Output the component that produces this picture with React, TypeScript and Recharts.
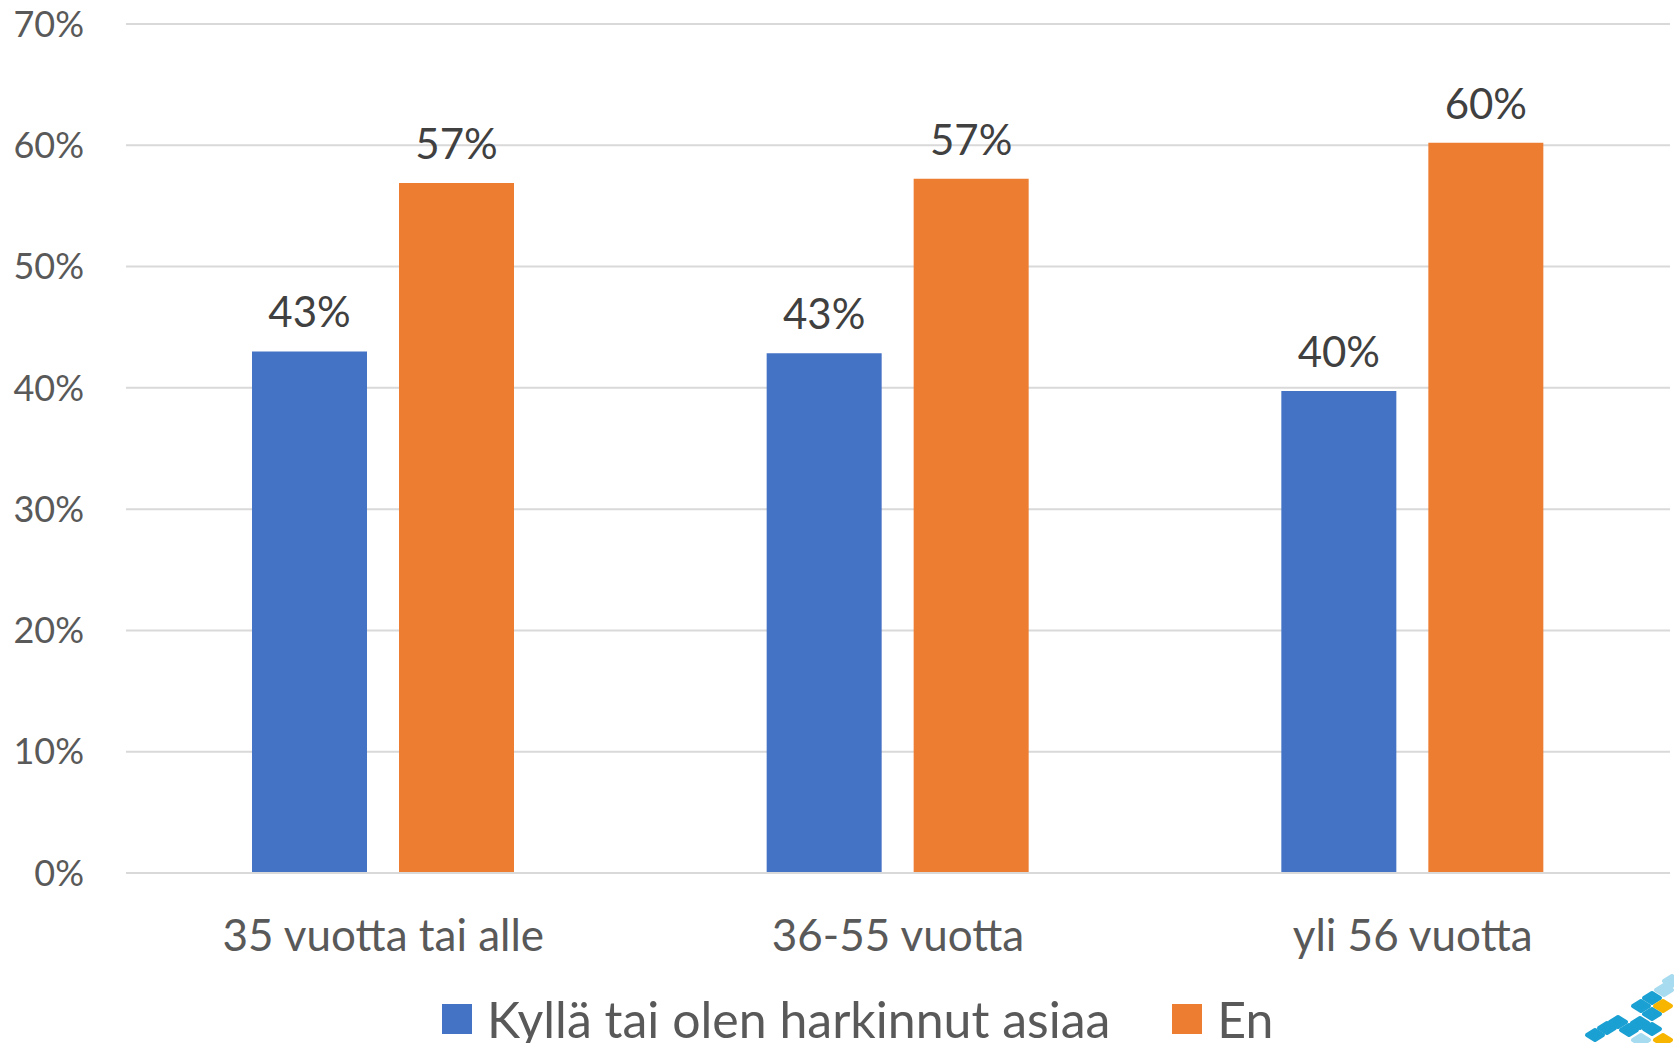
import { BarChart, Bar, XAxis, YAxis, CartesianGrid, Legend, LabelList } from "recharts";

const categories = ["35 vuotta tai alle", "36-55 vuotta", "yli 56 vuotta"];
const kylla = [43.0, 42.85, 39.75];
const en = [56.9, 57.25, 60.2];
const yTicks = [0, 10, 20, 30, 40, 50, 60, 70];

const seriesOrder = ["kylla", "en"];
const seriesNames = { kylla: "Kyllä tai olen harkinnut asiaa", en: "En" };

const chartData = categories.map((c, i) => ({ ryhma: c, kylla: kylla[i], en: en[i] }));

// logo in the bottom right corner (decoration, not data)
const logoDots = [
  [1595, 1035, "#1aa0d2"],
  [1607, 1028, "#1aa0d2"],
  [1618, 1022, "#1aa0d2"],
  [1629, 1030, "#1aa0d2"],
  [1640, 1023, "#1aa0d2"],
  [1641, 1006, "#1aa0d2"],
  [1652, 998, "#1aa0d2"],
  [1652, 1014, "#1aa0d2"],
  [1652, 1029, "#1aa0d2"],
  [1663, 1006, "#f7b500"],
  [1664, 990, "#a7dbef"],
  [1672, 981, "#a7dbef"],
  [1641, 1040, "#a7dbef"],
  [1663, 1040, "#f7b500"],
] as const;

const FONT = "Lato, 'Open Sans', sans-serif";

const renderLegend = (props: any) => {
  const payload = [...(props.payload || [])].sort(
    (a: any, b: any) => seriesOrder.indexOf(a.dataKey) - seriesOrder.indexOf(b.dataKey)
  );
  return (
    <div style={{ display: "flex", alignItems: "center", paddingLeft: 442, height: 46, fontFamily: FONT }}>
      {payload.map((p: any) => (
        <div key={p.value} style={{ display: "flex", alignItems: "center", marginRight: 62 }}>
          <span style={{ display: "inline-block", width: 30, height: 30, background: p.color, marginRight: 15 }} />
          <span style={{ fontSize: 50, color: "#595959", lineHeight: 0.9 }}>{p.value}</span>
        </div>
      ))}
    </div>
  );
};

export default function App() {
  return (
    <div style={{ position: "absolute", left: 0, top: 0, width: 1674, height: 1043, background: "#fff", fontFamily: FONT, overflow: "hidden" }}>
      <BarChart
        width={1674}
        height={1043}
        data={chartData}
        margin={{ top: 24, right: 4, bottom: 80, left: 0 }}
        barGap={32}
        barSize={115}
      >
        <CartesianGrid vertical={false} stroke="#d9d9d9" strokeWidth={2} />
        <XAxis
          dataKey="ryhma"
          height={90}
          axisLine={{ stroke: "#d9d9d9", strokeWidth: 2 }}
          tickLine={false}
          tickSize={0}
          tickMargin={47}
          tick={{ fill: "#595959", fontSize: 44, fontFamily: FONT }}
        />
        <YAxis
          width={126}
          domain={[0, 70]}
          ticks={yTicks}
          axisLine={false}
          tickLine={false}
          tickSize={0}
          tickMargin={42}
          tickFormatter={(v) => `${v}%`}
          tick={{ fill: "#595959", fontSize: 36, fontFamily: FONT }}
        />
        <Legend
          layout="horizontal"
          verticalAlign="middle"
          align="center"
          wrapperStyle={{ top: 996, left: 0, width: 1674 }}
          content={renderLegend}
        />
        <Bar dataKey="kylla" name={seriesNames.kylla} fill="#4472c4" isAnimationActive={false}>
          <LabelList
            dataKey="kylla"
            position="top"
            offset={24}
            formatter={(v: any) => `${Math.round(v)}%`}
            style={{ fill: "#404040", fontSize: 42, fontFamily: FONT }}
          />
        </Bar>
        <Bar dataKey="en" name={seriesNames.en} fill="#ed7d31" isAnimationActive={false}>
          <LabelList
            dataKey="en"
            position="top"
            offset={24}
            formatter={(v: any) => `${Math.round(v)}%`}
            style={{ fill: "#404040", fontSize: 42, fontFamily: FONT }}
          />
        </Bar>
      </BarChart>
      <svg width={1674} height={1043} style={{ position: "absolute", left: 0, top: 0, pointerEvents: "none" }}>
        {logoDots.map(([x, y, c], i) => (
          <path
            key={i}
            d={`M${x - 8},${y} L${x},${y - 5} L${x + 8},${y} L${x},${y + 5} Z`}
            fill={c}
            stroke={c}
            strokeWidth={4}
            strokeLinejoin="round"
          />
        ))}
      </svg>
    </div>
  );
}
